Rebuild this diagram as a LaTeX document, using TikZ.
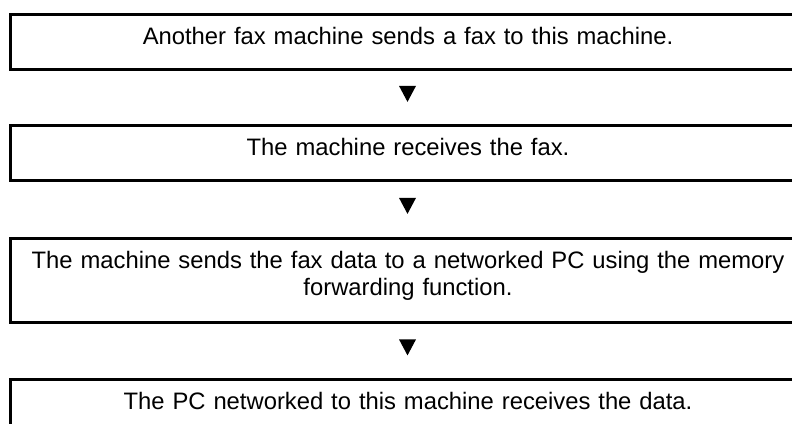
\documentclass[tikz,border=0pt]{standalone}
\usepackage{fontspec}
\setmainfont{Liberation Sans}
\usetikzlibrary{shapes.geometric}

\tikzset{
  stepbox/.style={draw, line width=3pt, text width=776pt, inner xsep=10pt, inner ysep=0pt,
    align=center, text height=30pt, text depth=25pt, anchor=north,
    font=\fontsize{23.8pt}{27.3pt}\selectfont},
  downtri/.style={isosceles triangle, isosceles triangle stretches, shape border rotate=270,
    fill=black, inner sep=0pt, minimum width=17pt, minimum height=16pt}
}

\begin{document}
\begin{tikzpicture}[x=1pt, y=-1pt]
\useasboundingbox (0,0) rectangle (792,423);
\clip (0,0) rectangle (792,423);

\node[stepbox] (send) at (408,13) {Another fax machine sends a fax to this machine.};
\node[stepbox] (recv) at (408,124) {The machine receives the fax.};
\node[stepbox, text depth=54.3pt] (fwd) at (408,236.7) {The machine sends the fax data to a networked PC using the memory\\ forwarding function.};
\node[stepbox] (pc) at (408,377.5) {The PC networked to this machine receives the data.};

% arrows between the steps
\node[downtri] (t1) at (407.5,91) {};
\node[downtri] (t2) at (407.5,203) {};
\node[downtri] (t3) at (407.5,344.5) {};

\end{tikzpicture}
\end{document}
